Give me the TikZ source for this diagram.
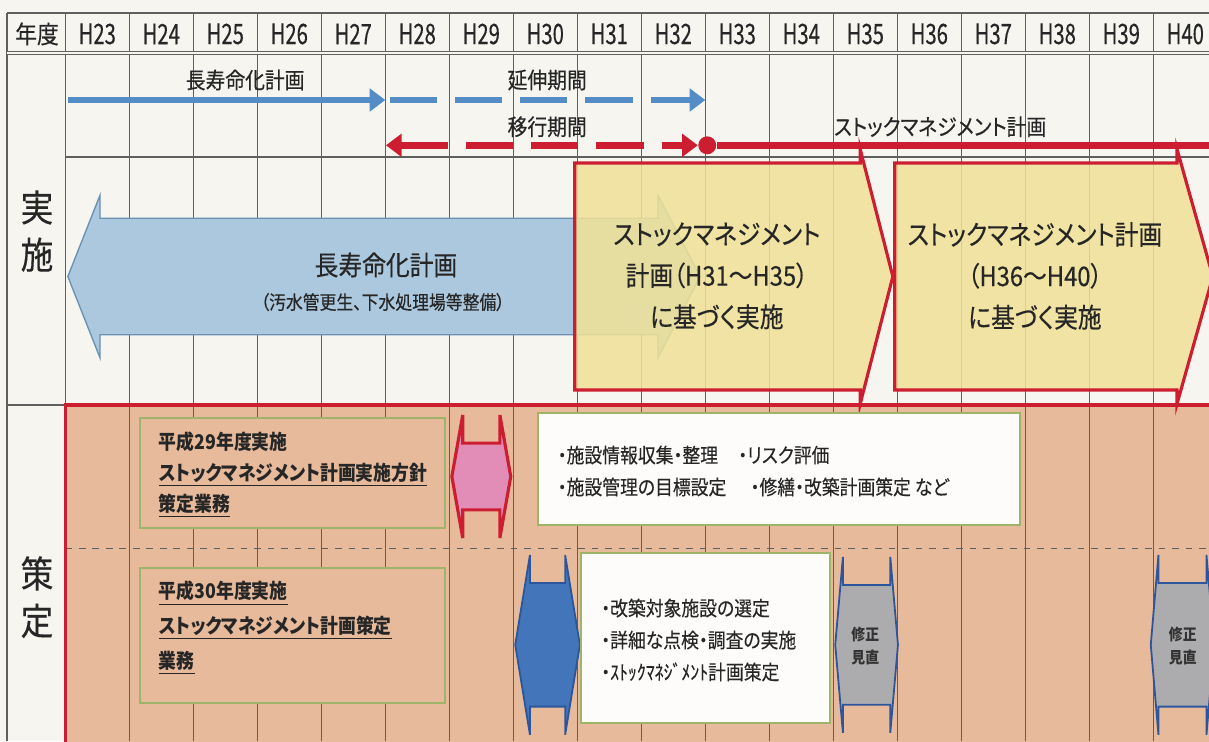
\documentclass[tikz,border=0pt]{standalone}
\usepackage{fontspec}
\setmainfont{Noto Sans CJK JP}[FakeStretch=0.88, RawFeature={+palt}, UprightFeatures={FakeBold=0.3}]
\newfontfamily\yearfont{Noto Sans CJK JP}[FakeStretch=0.72, FakeBold=0.3]
\newfontfamily\hankaku{Noto Sans CJK JP}[FakeStretch=0.88, FakeBold=0.3]
\usetikzlibrary{arrows.meta, calc}
\definecolor{paperbg}{RGB}{246, 245, 240}
\definecolor{gridgray}{RGB}{95, 95, 95}
\definecolor{lineblue}{RGB}{84, 141, 198}
\definecolor{planred}{RGB}{204, 30, 48}
\definecolor{lifeblue}{RGB}{172, 200, 222}
\definecolor{lifeedge}{RGB}{105, 145, 180}
\definecolor{stockyellow}{RGB}{241, 225, 150}
\definecolor{draftan}{RGB}{231, 186, 156}
\definecolor{boxgreen}{RGB}{160, 180, 105}
\definecolor{hexpink}{RGB}{226, 140, 184}
\definecolor{hexblue}{RGB}{66, 117, 186}
\definecolor{hexedge}{RGB}{45, 85, 155}
\definecolor{hexgray}{RGB}{172, 172, 174}

% tall double-headed marker: style, left tip x, right tip x, top y, bottom y, tip inset
\newcommand{\hexarrow}[6]{%
  \draw[#1] (#2,{(#4)/2+(#5)/2}) -- ({#2+#6},#4) -- ({#2+#6},{#4-0.44}) -- ({#3-#6},{#4-0.44})
    -- ({#3-#6},#4) -- (#3,{(#4)/2+(#5)/2}) -- ({#3-#6},#5) -- ({#3-#6},{#5+0.44})
    -- ({#2+#6},{#5+0.44}) -- ({#2+#6},#5) -- cycle;}

\begin{document}
\begin{tikzpicture}[
  yearlbl/.style={font=\yearfont\fontsize{12.5}{14}\selectfont, text=black!85},
  sidelbl/.style={font=\fontsize{16.5}{21}\selectfont, align=center, text=black!85},
  rowlbl/.style={font=\fontsize{10}{12}\selectfont, text=black!85},
  gridline/.style={gridgray, line width=0.35pt},
  planbox/.style={draw=boxgreen, line width=0.9pt, fill=draftan},
  whitebox/.style={draw=boxgreen, line width=0.9pt, fill=white!96!draftan},
  plantext/.style={font=\bfseries\fontsize{9}{13.7}\selectfont, align=left, anchor=west, text=black!85},
  listtext/.style={font=\fontsize{9}{14.2}\selectfont, align=left, anchor=west, text=black!85},
  fixtext/.style={font=\bfseries\fontsize{7}{10.2}\selectfont, align=center, text=black!80},
  stocktext/.style={font=\fontsize{12}{18.4}\selectfont, align=center, text=black!85},
  thickline/.style={line width=3pt},
  >={Triangle[length=7pt, width=10pt]}
]
  \useasboundingbox (0,0) rectangle (18.89,-11.578);
  \clip (0,0) rectangle (18.89,-11.578);
  \fill[paperbg] (0,0) rectangle (18.89,-11.578);

  % Planning band background
  \fill[draftan] (1.02,-6.328) rectangle (19.2,-11.7);

  % Grid
  \foreach \k in {0,...,17}
    \draw[gridline] (1.02+\k,-0.203) -- (1.02+\k,-11.578);
  \draw[gridline, line width=0.6pt] (0.11,-0.203) -- (0.11,-11.578);
  \draw[gridline, line width=0.6pt] (0.11,-0.203) -- (18.9,-0.203);
  \draw[gridgray, line width=0.6pt, double=paperbg, double distance=0.7pt] (0.11,-0.83) -- (18.9,-0.83);
  \draw[gridline, line width=0.6pt] (1.02,-2.453) -- (18.9,-2.453);
  \draw[gridline, line width=0.6pt] (0.11,-6.328) -- (18.9,-6.328);
  \draw[gridline, dashed] (1.02,-8.5625) -- (18.9,-8.5625);

  % Header
  \node[font=\fontsize{11}{13}\selectfont, text=black!85] (yearhd) at (0.578,-0.53) {年度};
  \foreach \k [evaluate=\k as \yr using int(23+\k)] in {0,...,17}
    \node[yearlbl] (yr\yr) at (1.52+\k,-0.53) {H\yr};

  % Side labels
  \node[sidelbl] (jisshi) at (0.578,-3.61) {実\\施};
  \node[sidelbl] (sakutei) at (0.578,-9.33) {策\\定};

  % Timeline arrows
  \node[rowlbl] (lifelbl) at (3.83,-1.25) {長寿命化計画};
  \node[rowlbl] (extlbl) at (8.55,-1.25) {延伸期間};
  \node[rowlbl] (translbl) at (8.55,-1.98) {移行期間};
  \node[rowlbl] (stocklbl) at (14.69,-1.98) {ストックマネジメント計画};
  \coordinate (lifeS) at (1.06,-1.5625);
  \coordinate (lifeE) at (6.02,-1.5625);
  \coordinate (extS) at (6.09,-1.5625);
  \coordinate (extE) at (11.02,-1.5625);
  \coordinate (transS) at (6.03,-2.27);
  \coordinate (stockE) at (19.2,-2.27);
  \node[circle, fill=planred, inner sep=0pt, minimum size=0.28cm] (stockdot) at (11.05,-2.27) {};
  \draw[lineblue, thickline, ->] (lifeS) -- (lifeE);
  \draw[lineblue, thickline, dash pattern=on 21pt off 8pt, ->] (extS) -- (extE);
  \draw[planred, thickline, dash pattern=on 21pt off 8pt, <->] (transS) -- (stockdot.west);
  \draw[planred, thickline] (stockdot) -- (stockE);

  % Implementation: long-life plan
  \draw[lifeedge, line width=0.6pt, fill=lifeblue] (1.06,-4.32) -- (1.5625,-3.05) -- (1.5625,-3.41)
    -- (10.28,-3.41) -- (10.28,-3.05) -- (10.94,-4.32) -- (10.28,-5.59) -- (10.28,-5.23)
    -- (1.5625,-5.23) -- (1.5625,-5.59) -- cycle;
  \node[font=\fontsize{12}{14}\selectfont, text=black!85] (lifetitle) at (6.03,-4.14) {長寿命化計画};
  \node[font=\fontsize{8.5}{10}\selectfont, text=black!85] (lifesub) at (5.98,-4.72) {（汚水管更生、下水処理場等整備）};

  % Implementation: stock management plans
  \draw[planred, line width=1.4pt, fill=stockyellow, fill opacity=0.85] (8.98,-2.547) -- (13.44,-2.547)
    -- (13.44,-2.33) -- (13.95,-4.32) -- (13.44,-6.31) -- (13.44,-6.094) -- (8.98,-6.094) -- cycle;
  \draw[planred, line width=1.4pt, fill=stockyellow, fill opacity=0.85] (13.98,-2.547) -- (18.39,-2.547)
    -- (18.39,-2.33) -- (18.95,-4.32) -- (18.39,-6.31) -- (18.39,-6.094) -- (13.98,-6.094) -- cycle;
  \node[stocktext] (stock1) at (11.2,-4.31) {ストックマネジメント\\計画（H31～H35）\\に基づく実施};
  \node[stocktext] (stock2) at (16.17,-4.31) {ストックマネジメント計画\\（H36～H40）\\に基づく実施};

  % Planning band
  \draw[planred, line width=1.4pt] (1.02,-11.7) -- (1.02,-6.328) -- (19.2,-6.328);

  \node[planbox, minimum width=4.77cm, minimum height=1.72cm] (plan29) at (4.57,-7.39) {};
  \node[plantext] (plan29txt) at (2.36,-7.42) {平成29年度実施\\\underline{ストックマネジメント計画実施方針}\\\underline{策定業務}};
  \node[planbox, minimum width=4.77cm, minimum height=2.11cm] (plan30) at (4.57,-9.93) {};
  \node[plantext, font=\bfseries\fontsize{9}{15.5}\selectfont] (plan30txt) at (2.36,-9.81) {\underline{平成30年度実施}\\\underline{ストックマネジメント計画策定}\\\underline{業務}};

  \hexarrow{draw=planred, line width=1.4pt, fill=hexpink}{7.06}{7.98}{-6.484}{-8.406}{0.17}
  \hexarrow{draw=hexedge, line width=0.8pt, fill=hexblue}{8.05}{9.06}{-8.67}{-11.48}{0.23}
  \hexarrow{draw=hexedge, line width=0.8pt, fill=hexgray}{13.05}{14.03}{-8.70}{-11.45}{0.12}
  \hexarrow{draw=hexedge, line width=0.8pt, fill=hexgray}{17.98}{18.97}{-8.67}{-11.48}{0.12}
  \node[fixtext] (fix35) at (13.52,-10.1) {修正\\見直};
  \node[fixtext] (fix40) at (18.48,-10.1) {修正\\見直};

  \node[whitebox, minimum width=7.53cm, minimum height=1.75cm] (survey) at (12.17,-7.33) {};
  \node[listtext] (surveytxt) at (8.59,-7.36) {・施設情報収集・整理\quad ・リスク評価\\・施設管理の目標設定\quad\ ・修繕・改築計画策定\ など};
  \node[whitebox, minimum width=3.89cm, minimum height=2.66cm] (select) at (11.02,-9.97) {};
  \node[listtext] (selecttxt) at (9.27,-10.0) {・改築対象施設の選定\\・詳細な点検・調査の実施\\・{\hankaku ｽﾄｯｸﾏﾈｼﾞﾒﾝﾄ}計画策定};
\end{tikzpicture}
\end{document}
